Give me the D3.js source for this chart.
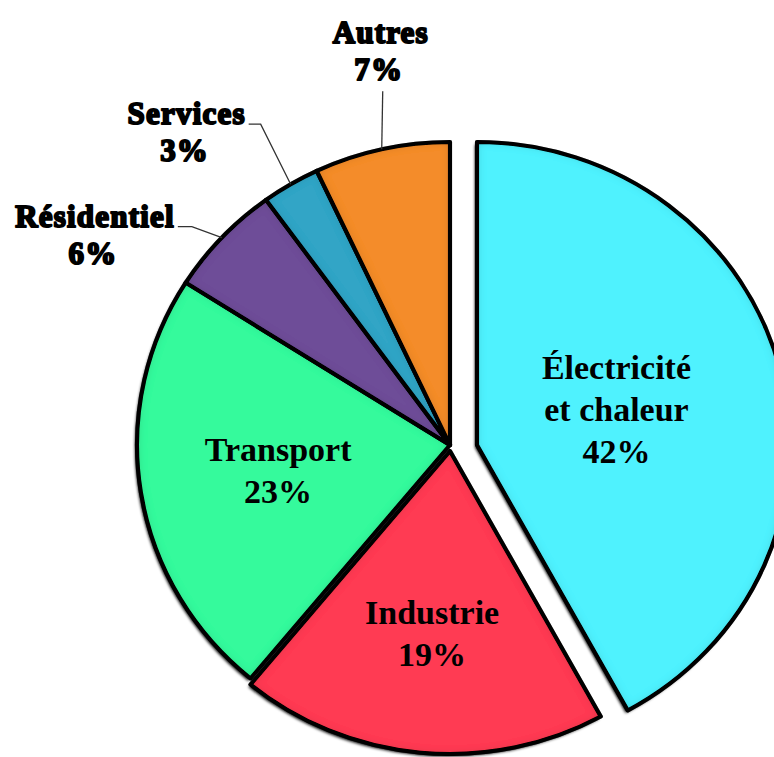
<!DOCTYPE html>
<html>
<head>
<meta charset="utf-8">
<script src="https://cdn.jsdelivr.net/npm/d3@7"></script>
<style>
  body { margin: 0; background: #fff; }
  svg { display: block; }
  .lbl { font-family: "Liberation Serif", "Times New Roman", serif; font-weight: bold; fill: #000; }
</style>
</head>
<body>
<div id="chart"></div>
<script>
// data
const categories = ["Électricité et chaleur", "Industrie", "Transport", "Résidentiel", "Services", "Autres"];
const labelLines = [["Électricité", "et chaleur"], ["Industrie"], ["Transport"], ["Résidentiel"], ["Services"], ["Autres"]];
const shares = [42, 19, 23, 6, 3, 7];
const colors = ["#4ff2fe", "#ff3b52", "#34fa9c", "#6e4e98", "#31a5c6", "#f48c2c"];

let width = 774, height = 757;
let cx = 450, cy = 445;
let R = 303, sx = 1.033;

// layout tweaks (page px)
let explode = {"Électricité et chaleur": [27, 0], "Industrie": [0, 6]};
let insideR = {"Électricité et chaleur": 0.46, "Industrie": 0.607, "Transport": 0.556};
let outside = {
    "Autres": {elbow: [1, -58], tail: 0, top: true},
    "Services": {elbow: [-30, -60], tail: -12},
    "Résidentiel": {elbow: [-30, -11], tail: -14}
};

let dataset = categories.map(function(c, i) {
    return {name: c, lines: labelLines[i], value: shares[i], color: colors[i]};
});

let svg = d3.select("#chart").append("svg")
    .attr("width", width)
    .attr("height", height);

let defs = svg.append("defs");
let bevel = defs.append("filter").attr("id", "bevel")
    .attr("x", "-10%").attr("y", "-10%").attr("width", "120%").attr("height", "120%");
bevel.append("feFlood").attr("flood-color", "#000").attr("flood-opacity", 0.55).attr("result", "f");
bevel.append("feComposite").attr("in", "f").attr("in2", "SourceAlpha").attr("operator", "out").attr("result", "outside");
bevel.append("feGaussianBlur").attr("in", "outside").attr("stdDeviation", 5).attr("result", "blur");
bevel.append("feComposite").attr("in", "blur").attr("in2", "SourceAlpha").attr("operator", "in").attr("result", "inner");
let merge = bevel.append("feMerge");
merge.append("feMergeNode").attr("in", "SourceGraphic");
merge.append("feMergeNode").attr("in", "inner");

let shadow = defs.append("filter").attr("id", "shadow")
    .attr("x", "-10%").attr("y", "-10%").attr("width", "120%").attr("height", "120%");
shadow.append("feGaussianBlur").attr("in", "SourceAlpha").attr("stdDeviation", 1.5);

let pie = d3.pie().sort(null).value(function(d) { return d.value; });
let arc = d3.arc().innerRadius(0).outerRadius(R);
let arcs = pie(dataset);

function off(d) { return explode[d.data.name] || [0, 0]; }
function mid(d) { return (d.startAngle + d.endAngle) / 2; }
// point on the (slightly wide) pie at fraction k of the radius
function point(d, k) {
    let a = mid(d), o = off(d);
    return [cx + o[0] + Math.sin(a) * k * R * sx, cy + o[1] - Math.cos(a) * k * R];
}

// drop shadows
svg.append("g").selectAll("path")
    .data(arcs)
    .enter().append("path")
    .attr("transform", function(d) {
        let o = off(d);
        return "translate(" + (cx + o[0] - 2) + "," + (cy + o[1] + 2.5) + ") scale(" + sx + ",1)";
    })
    .attr("d", arc)
    .attr("fill", "#000")
    .attr("filter", "url(#shadow)");

// slices
svg.append("g").selectAll("path")
    .data(arcs)
    .enter().append("path")
    .attr("transform", function(d) {
        let o = off(d);
        return "translate(" + (cx + o[0]) + "," + (cy + o[1]) + ") scale(" + sx + ",1)";
    })
    .attr("d", arc)
    .attr("fill", function(d) { return d.data.color; })
    .attr("stroke", "#000")
    .attr("stroke-width", 4)
    .attr("stroke-linejoin", "round")
    .attr("filter", "url(#bevel)");

// labels inside the big slices
let inner = arcs.filter(function(d) { return insideR[d.data.name]; });
inner.forEach(function(d) {
    let p = point(d, insideR[d.data.name]);
    let lines = d.data.lines.concat([d.data.value + "%"]);
    let n = lines.length, lh = 42;
    let t = svg.append("text")
        .attr("class", "lbl")
        .attr("font-size", 34)
        .attr("text-anchor", "middle");
    lines.forEach(function(s, i) {
        t.append("tspan")
            .attr("x", p[0])
            .attr("y", p[1] + (i - (n - 1) / 2) * lh + 11)
            .text(s);
    });
});

// labels outside the small slices, with leader lines
let outer = arcs.filter(function(d) { return outside[d.data.name]; });
outer.forEach(function(d) {
    let lay = outside[d.data.name];
    let p0 = point(d, 1);
    let p1 = [p0[0] + lay.elbow[0], p0[1] + lay.elbow[1]];
    let p2 = [p1[0] + lay.tail, p1[1]];

    svg.append("path")
        .attr("d", d3.line()([p0, p1, p2]))
        .attr("fill", "none")
        .attr("stroke", "#333")
        .attr("stroke-width", 1.3);

    let g = svg.append("g")
        .attr("class", "lbl")
        .attr("font-size", 31)
        .attr("letter-spacing", 1.2)
        .attr("stroke", "#000")
        .attr("stroke-width", 2)
        .attr("stroke-linejoin", "round")
        .attr("text-anchor", "middle");

    let name = g.append("text").text(d.data.lines[0]);
    let w = name.node().getComputedTextLength();
    let x, y;
    if (lay.top) {
        x = p2[0] - 2;
        y = p2[1] - 48;
    } else {
        x = p2[0] - 3 - w / 2;
        y = p2[1];
    }
    name.attr("x", x).attr("y", y);
    g.append("text")
        .attr("x", x - 2)
        .attr("y", y + 37)
        .text(d.data.value + "%");
});
</script>
</body>
</html>
